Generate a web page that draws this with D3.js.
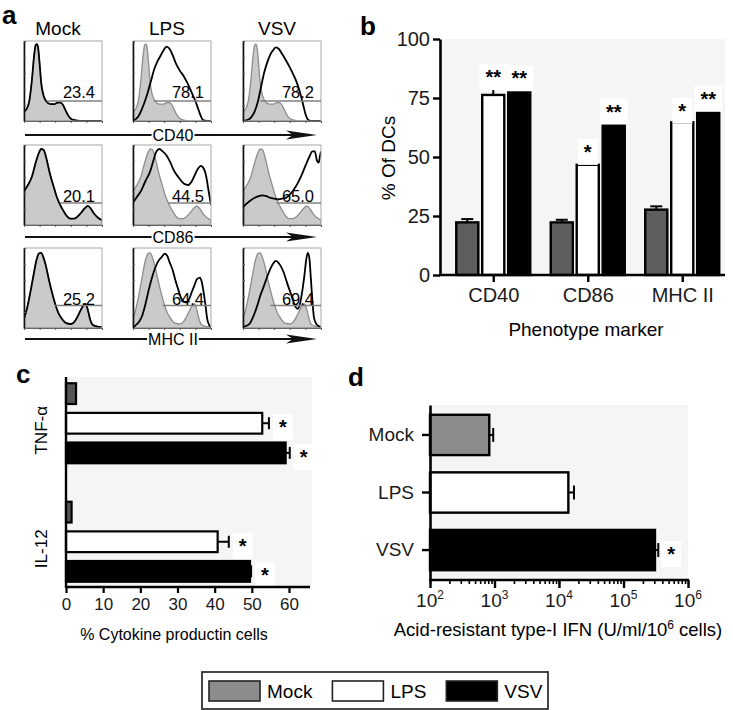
<!DOCTYPE html>
<html><head><meta charset="utf-8">
<script src="https://cdn.jsdelivr.net/npm/d3@7"></script>
<style>body{margin:0;background:#fff}svg{font-family:"Liberation Sans",Arial,Helvetica,sans-serif}</style>
</head><body>
<svg id="fig" width="733" height="710"></svg>
<script>
// ================= DATA =================
const groups = ["Mock", "LPS", "VSV"];
const markers = ["CD40", "CD86", "MHC II"];

// Panel a: flow histograms, points are [fluorescence (0-100), % of max]
const histCD40Mock = [[0,12],[4,16],[7,26],[10,50],[13,82],[15,95],[16.5,96],[18,92],[20,72],[22,48],[25,32],[29,24],[34,21],[39,21],[43,23],[47,23],[50,20],[53,14],[56,8],[60,3],[65,1],[72,0],[100,0]];
const histCD40LPS = [[0,0],[3,2],[7,6],[11,14],[15,24],[19,36],[23,50],[27,64],[31,74],[35,81],[39,88],[43,93],[47,90],[51,82],[55,72],[60,63],[65,56],[70,47],[75,36],[80,25],[84,14],[87,6],[90,1],[95,0],[100,0]];
const histCD40VSV = [[0,0],[5,1],[10,4],[15,12],[19,24],[23,42],[27,60],[31,73],[35,83],[39,89],[42,92],[46,90],[50,84],[55,76],[60,67],[65,57],[69,48],[73,36],[77,21],[80,9],[83,2],[87,0],[100,0]];
const histCD86Mock = [[0,42],[5,50],[10,60],[15,78],[19,90],[22,95],[25,94],[29,82],[33,65],[38,48],[42,35],[47,24],[51,17],[55,11],[59,8],[64,8],[68,10],[73,15],[78,21],[82,24],[86,20],[90,14],[95,9],[100,6]];
const histCD86LPS = [[0,28],[5,35],[11,44],[16,55],[22,67],[26,80],[30,92],[34,95],[38,92],[43,87],[48,78],[52,69],[58,60],[65,52],[71,50],[75,54],[79,62],[83,70],[87,74],[91,70],[94,60],[97,42],[100,25]];
const histCD86VSV = [[0,22],[5,27],[10,31],[15,34],[20,36],[25,37],[30,36],[35,34],[40,33],[45,32],[50,33],[55,34],[60,38],[65,44],[70,52],[75,62],[80,74],[85,85],[89,92],[92,92],[95,80],[97,78],[99,88],[100,92]];
const histMHCMock = [[0,12],[4,25],[8,44],[12,65],[16,85],[19,93],[22,94],[25,88],[28,78],[32,60],[36,44],[40,30],[44,19],[49,11],[54,6],[60,5],[64,7],[68,13],[72,21],[76,28],[79,30],[82,22],[85,10],[88,4],[93,2],[100,1]];
const histMHCLPS = [[0,0],[3,3],[8,8],[12,16],[16,30],[20,47],[24,62],[28,74],[32,83],[37,89],[41,93],[44,90],[47,82],[51,72],[54,61],[58,48],[61,39],[65,33],[69,32],[72,36],[75,44],[79,54],[82,61],[86,63],[88,58],[90,48],[93,28],[95,12],[98,3],[100,1]];
const histMHCVSV = [[0,1],[5,3],[9,6],[13,14],[18,27],[22,40],[27,53],[31,64],[35,74],[39,81],[42,84],[45,82],[48,78],[52,70],[55,61],[58,52],[61,44],[64,35],[67,27],[70,24],[73,30],[76,46],[79,68],[81,85],[83,94],[85,88],[87,62],[89,34],[91,13],[94,5],[98,2],[100,1]];
const gateStart = [[29,27,22],[46,45,43],[40,38,35]];
const gatePercent = [["23.4","78.1","78.2"],["20.1","44.5","65.0"],["25.2","64.4","69.4"]];

// Panel b: % of DCs
const dcMock = [22.3, 22.3, 27.7];
const dcLPS = [76.3, 46.7, 64.7];
const dcVSV = [78.4, 64.3, 69.4];
const dcErrMock = [1.4, 1.1, 1.4];
const dcErrLPS = [2.9, 0.8, 0.3];
const dcErrVSV = [0.3, 0.3, 0.6];
const dcSig = [["", "**", "**"], ["", "*", "**"], ["", "*", "**"]];
const dcTicks = [0, 25, 50, 75, 100];

// Panel c: % cytokine producing cells
const cytokines = ["TNF-α", "IL-12"];
const cytoMock = [2.7, 1.5];
const cytoLPS = [52.8, 40.8];
const cytoVSV = [59.1, 49.5];
const cytoErrMock = [0, 0];
const cytoErrLPS = [1.8, 3.0];
const cytoErrVSV = [1.1, 0.3];
const cytoSig = [["", "*", "*"], ["", "*", "*"]];
const cytoTicks = [0, 10, 20, 30, 40, 50, 60];

// Panel d: acid-resistant type-I IFN
const ifnValue = [830, 13960, 307600];
const ifnErr = [125, 3140, 38400];
const ifnSig = ["", "", "*"];
const ifnTicks = [1e2, 1e3, 1e4, 1e5, 1e6];

// ================= STYLE =================
const fillB = {Mock: "#5e5e5e", LPS: "#ffffff", VSV: "#000000"};
const fillC = {Mock: "#555555", LPS: "#ffffff", VSV: "#000000"};
const fillD = {Mock: "#8c8c8c", LPS: "#ffffff", VSV: "#000000"};
const plotBg = "#f5f5f5";

const svg = d3.select("#fig");

function panelLabel(t, x, y) {
  svg.append("text").attr("x", x).attr("y", y).text(t)
    .attr("font-size", 26).attr("font-weight", "bold");
}
function haloText(g, x, y, t, size, anchor) {
  const txt = g.append("text").attr("x", x).attr("y", y).text(t)
    .attr("font-size", size).attr("text-anchor", anchor || "middle").attr("font-weight", "bold");
  const bb = txt.node().getBBox();
  g.insert("rect", () => txt.node()).attr("x", bb.x - 6).attr("y", bb.y - 2)
    .attr("width", bb.width + 12).attr("height", bb.height + 4).attr("fill", "#fff");
  return txt;
}

// ================= PANEL A =================
panelLabel("a", 2, 24);
const histData = [
  [histCD40Mock, histCD40LPS, histCD40VSV],
  [histCD86Mock, histCD86LPS, histCD86VSV],
  [histMHCMock, histMHCLPS, histMHCVSV]
];
const colX = [24, 133, 243], rowY = [41, 145, 248], boxW = 78, boxH = 80;
const gateLevel = [25, 27.5, 28];
const arrowY = [135, 237, 339];
const gA = svg.append("g");
groups.forEach((g, c) => {
  gA.append("text").attr("x", colX[c] + boxW / 2 - 5).attr("y", 35).text(g)
    .attr("font-size", 19).attr("text-anchor", "middle");
});
gA.append("defs").selectAll("clipPath").data(d3.range(9)).join("clipPath")
  .attr("id", i => "hc" + i)
  .append("rect")
  .attr("x", i => colX[i % 3]).attr("y", i => rowY[Math.floor(i / 3)])
  .attr("width", boxW).attr("height", boxH);

markers.forEach((m, r) => {
  groups.forEach((g, c) => {
    const x = d3.scaleLinear().domain([0, 100]).range([colX[c], colX[c] + boxW]);
    const y = d3.scaleLinear().domain([0, 100]).range([rowY[r] + boxH, rowY[r]]);
    const gp = gA.append("g");
    const inner = gp.append("g").attr("clip-path", `url(#hc${r * 3 + c})`);
    inner.append("path").datum(histData[r][0])
      .attr("d", d3.area().x(d => x(d[0])).y0(y(0)).y1(d => y(d[1])).curve(d3.curveMonotoneX))
      .attr("fill", "#cacaca").attr("stroke", "#8d8d8d").attr("stroke-width", 1.3);
    inner.append("path").datum(histData[r][c])
      .attr("d", d3.line().x(d => x(d[0])).y(d => y(d[1])).curve(d3.curveMonotoneX))
      .attr("fill", "none").attr("stroke", "#000").attr("stroke-width", 1.8);
    // frame
    gp.append("rect").attr("x", colX[c]).attr("y", rowY[r]).attr("width", boxW).attr("height", boxH)
      .attr("fill", "none").attr("stroke", "#a8a8a8").attr("stroke-width", 1);
    const la = gp.append("g").attr("transform", `translate(${colX[c]},0)`)
      .call(d3.axisRight(y).ticks(5).tickSize(2).tickFormat("").tickSizeOuter(0));
    la.select(".domain").attr("stroke", "#111").attr("stroke-width", 1.6);
    la.selectAll(".tick line").attr("stroke", "#555");
    const ba = gp.append("g").attr("transform", `translate(0,${rowY[r] + boxH})`)
      .call(d3.axisBottom(x).ticks(4).tickSize(2).tickFormat("").tickSizeOuter(0));
    ba.select(".domain").attr("stroke", "#666").attr("stroke-width", 1);
    ba.selectAll(".tick line").attr("stroke", "#555");
    // gate
    gp.append("line").attr("x1", x(gateStart[r][c])).attr("x2", x(100))
      .attr("y1", y(gateLevel[r])).attr("y2", y(gateLevel[r]))
      .attr("stroke", "#808080").attr("stroke-width", 1.5);
    gp.append("text").attr("x", x(100) - 7).attr("y", y(gateLevel[r]) - (r === 0 ? 3 : 1))
      .attr("text-anchor", "end").attr("font-size", 16.5).text(gatePercent[r][c]);
  });
  // axis arrow
  const ay = arrowY[r];
  gA.append("line").attr("x1", 25).attr("x2", 300).attr("y1", ay).attr("y2", ay)
    .attr("stroke", "#111").attr("stroke-width", 2);
  gA.append("path").attr("d", `M317,${ay} L286,${ay - 4.5} L293,${ay} L286,${ay + 4.5} Z`).attr("fill", "#111");
  const lt = gA.append("text").attr("x", 173).attr("y", ay + 6).attr("text-anchor", "middle")
    .attr("font-size", 16).text(m);
  const bb = lt.node().getBBox();
  gA.insert("rect", () => lt.node()).attr("x", bb.x - 1).attr("y", ay - 2).attr("width", bb.width + 2)
    .attr("height", 4).attr("fill", "#fff");
});

// ================= PANEL B =================
panelLabel("b", 360, 35);
const gB = svg.append("g");
const bx = d3.scaleBand().domain(markers).range([446, 729.5]);
const bxi = d3.scaleBand().domain(groups).range([-37, 37]).paddingInner(0.15);
const by = d3.scaleLinear().domain([0, 100]).range([275, 39]);
gB.append("rect").attr("x", 440).attr("y", by(100)).attr("width", 285)
  .attr("height", by(0) - by(100)).attr("fill", plotBg);
const dcRows = [];
markers.forEach((m, i) => {
  [dcMock, dcLPS, dcVSV].forEach((arr, j) => {
    dcRows.push({m, g: groups[j], v: arr[i], e: [dcErrMock, dcErrLPS, dcErrVSV][j][i], s: dcSig[i][j]});
  });
});
const bcx = d => bx(d.m) + bx.bandwidth() / 2 + bxi(d.g);
dcRows.forEach(d => {
  const x0 = bcx(d), w = bxi.bandwidth(), xc = x0 + w / 2;
  gB.append("line").attr("x1", xc).attr("x2", xc).attr("y1", by(d.v)).attr("y2", by(d.v + d.e))
    .attr("stroke", "#000").attr("stroke-width", 2);
  gB.append("line").attr("x1", xc - 6).attr("x2", xc + 6).attr("y1", by(d.v + d.e)).attr("y2", by(d.v + d.e))
    .attr("stroke", "#000").attr("stroke-width", 2);
  gB.append("rect").attr("x", x0).attr("y", by(d.v)).attr("width", w).attr("height", by(0) - by(d.v))
    .attr("fill", fillB[d.g]).attr("stroke", "#000").attr("stroke-width", 2.4);
  if (d.s) haloText(gB, xc, by(d.v + d.e) - 15 + 11, d.s, 20);
});
const bYAxis = gB.append("g").attr("transform", "translate(440,0)")
  .call(d3.axisLeft(by).tickValues(dcTicks).tickSize(7).tickSizeOuter(0).tickPadding(3));
bYAxis.select(".domain").attr("stroke-width", 2.6);
bYAxis.selectAll(".tick line").attr("stroke-width", 2.4);
bYAxis.selectAll(".tick text").attr("font-size", 20).attr("font-family", null).attr("fill", "#1a1a1a");
const bXAxis = gB.append("g").attr("transform", "translate(0,275)")
  .call(d3.axisBottom(d3.scalePoint().domain(markers).range([bx(markers[0]) + bx.bandwidth() / 2, bx(markers[2]) + bx.bandwidth() / 2]))
    .tickSize(7).tickSizeOuter(0).tickPadding(6));
bXAxis.select(".domain").remove();
gB.append("line").attr("x1", 439).attr("x2", 725).attr("y1", 275).attr("y2", 275).attr("stroke", "#000").attr("stroke-width", 2.6);
bXAxis.selectAll(".tick line").attr("stroke-width", 2.4);
bXAxis.selectAll(".tick text").attr("font-size", 20).attr("font-family", null).attr("fill", "#1a1a1a");
gB.append("text").attr("transform", "translate(395,158) rotate(-90)").attr("text-anchor", "middle")
  .attr("font-size", 19).text("% Of DCs");
gB.append("text").attr("x", 586).attr("y", 336).attr("text-anchor", "middle").attr("font-size", 19)
  .text("Phenotype marker");

// ================= PANEL C =================
panelLabel("c", 16, 383);
const gC = svg.append("g");
const cx = d3.scaleLinear().domain([0, 60]).range([66, 289]);
const cy = d3.scaleBand().domain(cytokines).range([364, 601]);
const cyi = d3.scaleBand().domain(groups).range([-40, 40]).paddingInner(0.3);
gC.append("rect").attr("x", cx(0)).attr("y", 377).attr("width", 312 - cx(0)).attr("height", 587 - 377).attr("fill", plotBg);
const cRows = [];
cytokines.forEach((k, i) => {
  [cytoMock, cytoLPS, cytoVSV].forEach((arr, j) => {
    cRows.push({k, g: groups[j], v: arr[i], e: [cytoErrMock, cytoErrLPS, cytoErrVSV][j][i], s: cytoSig[i][j]});
  });
});
cRows.forEach(d => {
  const y0 = cy(d.k) + cy.bandwidth() / 2 + cyi(d.g), h = cyi.bandwidth(), yc = y0 + h / 2;
  if (d.e > 0) {
    gC.append("line").attr("x1", cx(d.v)).attr("x2", cx(d.v + d.e)).attr("y1", yc).attr("y2", yc)
      .attr("stroke", "#000").attr("stroke-width", 2);
    gC.append("line").attr("x1", cx(d.v + d.e)).attr("x2", cx(d.v + d.e)).attr("y1", yc - 6).attr("y2", yc + 6)
      .attr("stroke", "#000").attr("stroke-width", 2);
  }
  gC.append("rect").attr("x", cx(0)).attr("y", y0).attr("width", cx(d.v) - cx(0)).attr("height", h)
    .attr("fill", fillC[d.g]).attr("stroke", "#000").attr("stroke-width", 2.2);
  if (d.s) haloText(gC, cx(d.v + d.e) + 10, yc + 11, d.s, 20, "start");
});
gC.append("line").attr("x1", cx(0)).attr("x2", cx(0)).attr("y1", 377).attr("y2", 588)
  .attr("stroke", "#000").attr("stroke-width", 2.4);
const cXAxis = gC.append("g").attr("transform", "translate(0,587)")
  .call(d3.axisBottom(cx).tickValues(cytoTicks).tickSize(6).tickSizeOuter(0).tickPadding(5));
cXAxis.select(".domain").remove();
gC.append("line").attr("x1", cx(0) - 1).attr("x2", 310).attr("y1", 587).attr("y2", 587).attr("stroke", "#000").attr("stroke-width", 2.4);
cXAxis.selectAll(".tick line").attr("stroke-width", 2.2);
cXAxis.selectAll(".tick text").attr("font-size", 17).attr("font-family", null).attr("fill", "#1a1a1a");
cytokines.forEach(k => {
  gC.append("text").attr("transform", `translate(47,${cy(k) + cy.bandwidth() / 2 + 7}) rotate(-90)`)
    .attr("text-anchor", "middle").attr("font-size", 17).text(k);
});
gC.append("text").attr("x", 174).attr("y", 640).attr("text-anchor", "middle").attr("font-size", 16)
  .text("% Cytokine productin cells");

// ================= PANEL D =================
panelLabel("d", 348, 386);
const gD = svg.append("g");
const dx = d3.scaleLog().domain([1e2, 1e6]).range([430, 688]);
const dy = d3.scaleBand().domain(groups).range([405, 580]).paddingInner(0.3).paddingOuter(0.17);
gD.append("rect").attr("x", 430).attr("y", 405).attr("width", 258).attr("height", 175).attr("fill", plotBg);
groups.forEach((g, i) => {
  const y0 = dy(g), h = dy.bandwidth(), yc = y0 + h / 2;
  const v = ifnValue[i], e = ifnErr[i];
  gD.append("line").attr("x1", dx(v)).attr("x2", dx(v + e)).attr("y1", yc).attr("y2", yc)
    .attr("stroke", "#000").attr("stroke-width", 2);
  gD.append("line").attr("x1", dx(v + e)).attr("x2", dx(v + e)).attr("y1", yc - 7).attr("y2", yc + 7)
    .attr("stroke", "#000").attr("stroke-width", 2);
  gD.append("rect").attr("x", dx(1e2)).attr("y", y0).attr("width", dx(v) - dx(1e2)).attr("height", h)
    .attr("fill", fillD[g]).attr("stroke", "#000").attr("stroke-width", 2.4);
  if (ifnSig[i]) haloText(gD, dx(v + e) + 9, yc + 11, ifnSig[i], 20, "start");
});
const dYAxis = gD.append("g").attr("transform", "translate(430,0)")
  .call(d3.axisLeft(dy).tickSize(8).tickSizeOuter(0).tickPadding(8));
dYAxis.select(".domain").attr("stroke-width", 2.6);
dYAxis.selectAll(".tick line").attr("stroke-width", 2.4);
dYAxis.selectAll(".tick text").attr("font-size", 19).attr("font-family", null).attr("fill", "#1a1a1a");
// minor log ticks
const dMinor = gD.append("g").attr("transform", "translate(0,580)")
  .call(d3.axisBottom(dx).tickValues(dx.ticks()).tickSize(4).tickFormat("").tickSizeOuter(0));
dMinor.select(".domain").remove();
dMinor.selectAll(".tick line").attr("stroke-width", 1.6);
const dXAxis = gD.append("g").attr("transform", "translate(0,580)")
  .call(d3.axisBottom(dx).tickValues(ifnTicks).tickSize(8).tickFormat("").tickSizeOuter(0));
dXAxis.select(".domain").remove();
dXAxis.selectAll(".tick line").attr("stroke-width", 2.4);
gD.append("line").attr("x1", 429).attr("x2", 689).attr("y1", 580).attr("y2", 580).attr("stroke", "#000").attr("stroke-width", 2.6);
ifnTicks.forEach(t => {
  const tx = gD.append("text").attr("x", dx(t)).attr("y", 607).attr("text-anchor", "middle").attr("font-size", 19).attr("fill", "#1a1a1a");
  tx.append("tspan").text("10");
  tx.append("tspan").attr("dy", -8).attr("font-size", 12).text(String(Math.round(Math.log10(t))));
});
const dTitle = gD.append("text").attr("x", 558).attr("y", 636).attr("text-anchor", "middle").attr("font-size", 18.5);
dTitle.append("tspan").text("Acid-resistant type-I IFN (U/ml/10");
dTitle.append("tspan").attr("dy", -7).attr("font-size", 12).text("6");
dTitle.append("tspan").attr("dy", 7).text(" cells)");

// ================= LEGEND =================
const gL = svg.append("g");
gL.append("rect").attr("x", 202).attr("y", 672).attr("width", 346).attr("height", 37)
  .attr("fill", "#fff").attr("stroke", "#333").attr("stroke-width", 1.8);
let lx = 209;
groups.forEach(g => {
  gL.append("rect").attr("x", lx).attr("y", 681).attr("width", 51).attr("height", 20)
    .attr("fill", fillD[g]).attr("stroke", "#222").attr("stroke-width", 1.6);
  const t = gL.append("text").attr("x", lx + 58).attr("y", 698).attr("font-size", 19).text(g);
  lx = lx + 58 + t.node().getComputedTextLength() + 20;
});
</script>
</body></html>
